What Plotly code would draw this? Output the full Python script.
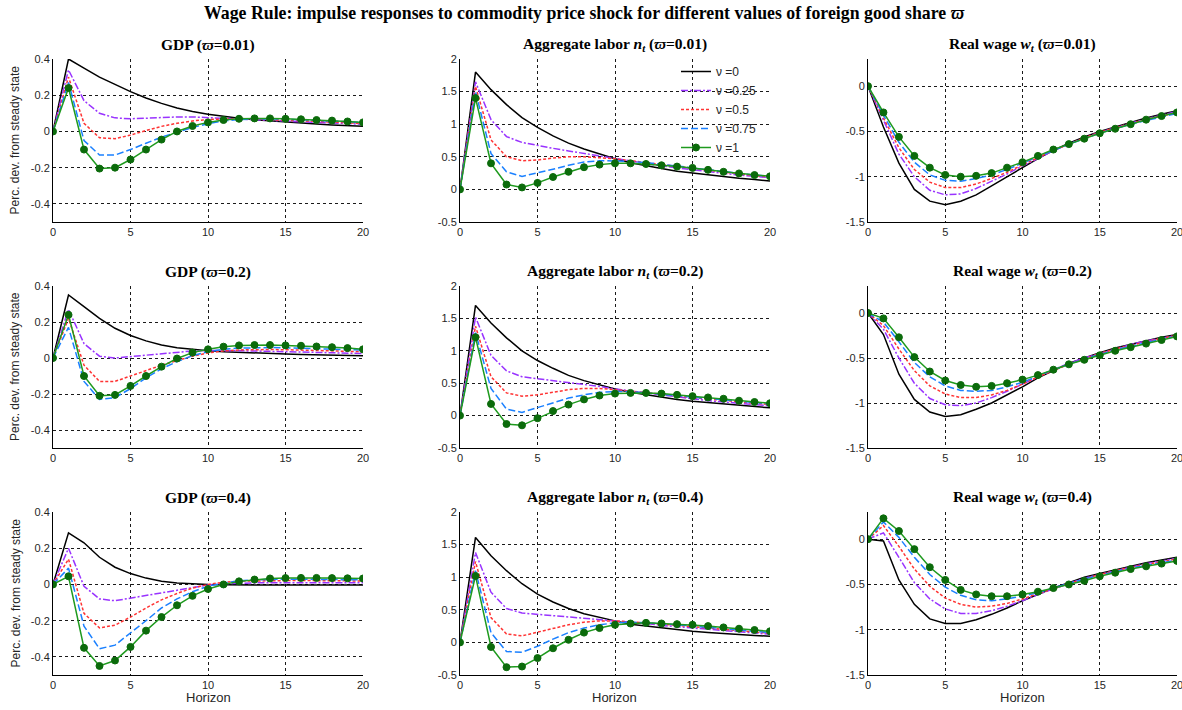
import plotly.graph_objects as go

horizon = list(range(21))
nu_labels = ["\u03bd =0", "\u03bd =0.25", "\u03bd =0.5", "\u03bd =0.75", "\u03bd =1"]
varpi_labels = ["0.01", "0.2", "0.4"]

x_ticks = [0, 5, 10, 15, 20]
gdp_ticks = [-0.4, -0.2, 0, 0.2, 0.4]
gdp_ticktext = ["-0.4", "-0.2", "0", "0.2", "0.4"]
lab_ticks = [-0.5, 0, 0.5, 1, 1.5, 2]
lab_ticktext = ["-0.5", "0", "0.5", "1", "1.5", "2"]
wage_ticks = [-1.5, -1, -0.5, 0]
wage_ticktext = ["-1.5", "-1", "-0.5", "0"]

# GDP, varpi = 0.01
g1_n0 = [0, 0.40, 0.35, 0.30, 0.26, 0.22, 0.185, 0.155, 0.13, 0.11, 0.095, 0.083, 0.073, 0.065, 0.058, 0.052, 0.046, 0.041, 0.036, 0.032, 0.028]
g1_n25 = [0, 0.34, 0.17, 0.10, 0.075, 0.07, 0.073, 0.078, 0.08, 0.08, 0.077, 0.073, 0.069, 0.065, 0.061, 0.057, 0.053, 0.05, 0.046, 0.043, 0.04]
g1_n50 = [0, 0.30, 0.045, -0.035, -0.04, -0.02, 0.005, 0.028, 0.045, 0.058, 0.066, 0.07, 0.07, 0.068, 0.066, 0.063, 0.06, 0.056, 0.052, 0.048, 0.044]
g1_n75 = [0, 0.27, -0.05, -0.13, -0.13, -0.10, -0.065, -0.032, -0.005, 0.022, 0.043, 0.058, 0.066, 0.069, 0.069, 0.068, 0.065, 0.062, 0.058, 0.054, 0.05]
g1_n100 = [0, 0.24, -0.10, -0.205, -0.20, -0.155, -0.10, -0.045, 0.0, 0.03, 0.05, 0.063, 0.07, 0.072, 0.072, 0.07, 0.067, 0.063, 0.06, 0.055, 0.05]

# Aggregate labor, varpi = 0.01
l1_n0 = [0, 1.80, 1.53, 1.30, 1.10, 0.95, 0.82, 0.71, 0.62, 0.54, 0.47, 0.41, 0.36, 0.32, 0.28, 0.25, 0.22, 0.195, 0.17, 0.15, 0.13]
l1_n25 = [0, 1.65, 1.07, 0.81, 0.72, 0.67, 0.63, 0.59, 0.55, 0.51, 0.47, 0.43, 0.39, 0.36, 0.33, 0.30, 0.27, 0.25, 0.22, 0.20, 0.18]
l1_n50 = [0, 1.58, 0.76, 0.50, 0.44, 0.45, 0.48, 0.50, 0.50, 0.49, 0.47, 0.44, 0.41, 0.38, 0.35, 0.32, 0.29, 0.26, 0.24, 0.21, 0.19]
l1_n75 = [0, 1.50, 0.55, 0.27, 0.20, 0.25, 0.31, 0.37, 0.42, 0.44, 0.44, 0.43, 0.41, 0.39, 0.36, 0.33, 0.30, 0.27, 0.25, 0.22, 0.20]
l1_n100 = [0, 1.40, 0.40, 0.075, 0.03, 0.10, 0.19, 0.27, 0.34, 0.38, 0.40, 0.40, 0.39, 0.37, 0.35, 0.33, 0.30, 0.27, 0.245, 0.22, 0.20]

# Real wage, varpi = 0.01
w1_n0 = [0, -0.45, -0.85, -1.14, -1.27, -1.31, -1.27, -1.20, -1.10, -1.00, -0.90, -0.80, -0.71, -0.63, -0.56, -0.50, -0.45, -0.40, -0.35, -0.31, -0.27]
w1_n25 = [0, -0.38, -0.75, -1.00, -1.15, -1.20, -1.19, -1.13, -1.05, -0.97, -0.88, -0.80, -0.71, -0.64, -0.57, -0.51, -0.46, -0.41, -0.36, -0.32, -0.28]
w1_n50 = [0, -0.35, -0.68, -0.92, -1.06, -1.12, -1.12, -1.08, -1.02, -0.95, -0.87, -0.79, -0.71, -0.64, -0.57, -0.51, -0.46, -0.41, -0.37, -0.33, -0.29]
w1_n75 = [0, -0.32, -0.62, -0.84, -0.98, -1.04, -1.05, -1.02, -0.98, -0.92, -0.85, -0.78, -0.71, -0.64, -0.58, -0.52, -0.47, -0.42, -0.38, -0.34, -0.30]
w1_n100 = [0, -0.29, -0.56, -0.77, -0.90, -0.98, -1.00, -0.99, -0.96, -0.90, -0.84, -0.77, -0.70, -0.64, -0.58, -0.52, -0.47, -0.42, -0.37, -0.33, -0.29]

# GDP, varpi = 0.2
g2_n0 = [0, 0.35, 0.285, 0.22, 0.165, 0.125, 0.095, 0.072, 0.057, 0.047, 0.04, 0.035, 0.031, 0.028, 0.025, 0.022, 0.02, 0.018, 0.016, 0.014, 0.013]
g2_n25 = [0, 0.27, 0.08, 0.01, 0.0, 0.008, 0.018, 0.027, 0.034, 0.039, 0.042, 0.042, 0.041, 0.039, 0.037, 0.035, 0.033, 0.031, 0.029, 0.027, 0.025]
g2_n50 = [0, 0.22, -0.04, -0.13, -0.13, -0.10, -0.07, -0.04, -0.015, 0.01, 0.028, 0.039, 0.045, 0.047, 0.047, 0.046, 0.044, 0.042, 0.04, 0.037, 0.035]
g2_n75 = [0, 0.17, -0.13, -0.23, -0.22, -0.17, -0.11, -0.06, -0.02, 0.013, 0.035, 0.048, 0.055, 0.058, 0.058, 0.057, 0.055, 0.053, 0.05, 0.047, 0.044]
g2_n100 = [0, 0.24, -0.10, -0.21, -0.205, -0.155, -0.10, -0.048, -0.003, 0.03, 0.048, 0.063, 0.07, 0.072, 0.072, 0.07, 0.068, 0.064, 0.06, 0.055, 0.048]

# Aggregate labor, varpi = 0.2
l2_n0 = [0, 1.70, 1.43, 1.20, 1.00, 0.85, 0.73, 0.62, 0.54, 0.47, 0.41, 0.36, 0.32, 0.28, 0.25, 0.22, 0.20, 0.17, 0.15, 0.135, 0.12]
l2_n25 = [0, 1.52, 0.93, 0.69, 0.60, 0.57, 0.55, 0.52, 0.49, 0.45, 0.41, 0.38, 0.34, 0.31, 0.28, 0.25, 0.23, 0.21, 0.19, 0.17, 0.15]
l2_n50 = [0, 1.38, 0.60, 0.35, 0.30, 0.32, 0.36, 0.40, 0.42, 0.42, 0.40, 0.38, 0.35, 0.33, 0.30, 0.28, 0.26, 0.23, 0.21, 0.19, 0.17]
l2_n75 = [0, 1.28, 0.42, 0.10, 0.05, 0.12, 0.20, 0.27, 0.32, 0.36, 0.37, 0.37, 0.35, 0.33, 0.31, 0.29, 0.27, 0.25, 0.22, 0.20, 0.18]
l2_n100 = [0, 1.21, 0.18, -0.13, -0.15, -0.04, 0.07, 0.17, 0.25, 0.31, 0.34, 0.35, 0.35, 0.34, 0.32, 0.30, 0.28, 0.26, 0.23, 0.21, 0.19]

# Real wage, varpi = 0.2
w2_n0 = [0, -0.24, -0.68, -0.96, -1.10, -1.15, -1.13, -1.07, -1.00, -0.91, -0.82, -0.72, -0.64, -0.56, -0.50, -0.44, -0.39, -0.35, -0.31, -0.27, -0.24]
w2_n25 = [0, -0.18, -0.50, -0.78, -0.95, -1.02, -1.03, -1.00, -0.94, -0.87, -0.79, -0.71, -0.63, -0.56, -0.50, -0.45, -0.40, -0.35, -0.31, -0.28, -0.25]
w2_n50 = [0, -0.14, -0.40, -0.64, -0.81, -0.90, -0.94, -0.94, -0.91, -0.86, -0.79, -0.71, -0.64, -0.57, -0.51, -0.45, -0.40, -0.36, -0.32, -0.28, -0.25]
w2_n75 = [0, -0.10, -0.32, -0.55, -0.71, -0.81, -0.86, -0.87, -0.86, -0.82, -0.77, -0.70, -0.63, -0.57, -0.51, -0.46, -0.41, -0.37, -0.33, -0.29, -0.26]
w2_n100 = [0, -0.06, -0.27, -0.49, -0.65, -0.75, -0.80, -0.82, -0.81, -0.78, -0.74, -0.69, -0.63, -0.57, -0.52, -0.47, -0.42, -0.38, -0.34, -0.30, -0.26]

# GDP, varpi = 0.4
g3_n0 = [0, 0.285, 0.23, 0.15, 0.095, 0.06, 0.035, 0.018, 0.008, 0.003, 0.0, -0.002, -0.003, -0.003, -0.003, -0.003, -0.003, -0.003, -0.003, -0.003, -0.003]
g3_n25 = [0, 0.20, -0.01, -0.08, -0.09, -0.075, -0.06, -0.045, -0.03, -0.015, -0.003, 0.005, 0.008, 0.01, 0.01, 0.01, 0.01, 0.01, 0.01, 0.009, 0.009]
g3_n50 = [0, 0.14, -0.16, -0.24, -0.225, -0.18, -0.13, -0.085, -0.05, -0.02, 0.0, 0.012, 0.018, 0.02, 0.022, 0.022, 0.022, 0.021, 0.02, 0.02, 0.019]
g3_n75 = [0, 0.09, -0.23, -0.355, -0.335, -0.27, -0.20, -0.13, -0.08, -0.04, -0.01, 0.008, 0.02, 0.025, 0.028, 0.029, 0.029, 0.028, 0.027, 0.026, 0.025]
g3_n100 = [0, 0.045, -0.35, -0.45, -0.42, -0.345, -0.255, -0.18, -0.115, -0.063, -0.025, 0.0, 0.017, 0.027, 0.033, 0.035, 0.036, 0.036, 0.035, 0.034, 0.033]

# Aggregate labor, varpi = 0.4
l3_n0 = [0, 1.61, 1.33, 1.10, 0.90, 0.74, 0.62, 0.52, 0.44, 0.38, 0.33, 0.28, 0.25, 0.22, 0.19, 0.17, 0.15, 0.13, 0.12, 0.105, 0.095]
l3_n25 = [0, 1.38, 0.77, 0.52, 0.45, 0.43, 0.42, 0.40, 0.38, 0.35, 0.33, 0.31, 0.29, 0.26, 0.24, 0.22, 0.20, 0.18, 0.16, 0.14, 0.125]
l3_n50 = [0, 1.24, 0.38, 0.13, 0.10, 0.16, 0.22, 0.27, 0.31, 0.33, 0.33, 0.32, 0.30, 0.28, 0.26, 0.24, 0.22, 0.20, 0.18, 0.16, 0.14]
l3_n75 = [0, 1.10, 0.15, -0.14, -0.15, -0.06, 0.05, 0.15, 0.22, 0.27, 0.30, 0.31, 0.30, 0.29, 0.27, 0.25, 0.23, 0.21, 0.19, 0.17, 0.15]
l3_n100 = [0, 1.02, -0.07, -0.38, -0.37, -0.24, -0.09, 0.04, 0.15, 0.22, 0.27, 0.29, 0.30, 0.29, 0.28, 0.27, 0.25, 0.23, 0.21, 0.19, 0.17]

# Real wage, varpi = 0.4
w3_n0 = [0, -0.02, -0.45, -0.72, -0.88, -0.93, -0.93, -0.89, -0.83, -0.76, -0.68, -0.61, -0.54, -0.48, -0.42, -0.38, -0.34, -0.30, -0.26, -0.23, -0.20]
w3_n25 = [0, 0.07, -0.20, -0.48, -0.66, -0.77, -0.82, -0.82, -0.79, -0.74, -0.68, -0.61, -0.55, -0.49, -0.43, -0.39, -0.35, -0.31, -0.27, -0.24, -0.21]
w3_n50 = [0, 0.15, -0.08, -0.33, -0.52, -0.65, -0.72, -0.75, -0.74, -0.71, -0.66, -0.60, -0.55, -0.49, -0.44, -0.39, -0.35, -0.31, -0.28, -0.25, -0.22]
w3_n75 = [0, 0.19, 0.02, -0.20, -0.39, -0.53, -0.62, -0.67, -0.68, -0.66, -0.63, -0.59, -0.54, -0.49, -0.44, -0.40, -0.36, -0.32, -0.29, -0.26, -0.23]
w3_n100 = [0, 0.23, 0.09, -0.11, -0.31, -0.45, -0.56, -0.61, -0.63, -0.63, -0.61, -0.58, -0.54, -0.50, -0.46, -0.41, -0.37, -0.33, -0.30, -0.27, -0.24]

panels = [
    [[g1_n0, g1_n25, g1_n50, g1_n75, g1_n100],
     [l1_n0, l1_n25, l1_n50, l1_n75, l1_n100],
     [w1_n0, w1_n25, w1_n50, w1_n75, w1_n100]],
    [[g2_n0, g2_n25, g2_n50, g2_n75, g2_n100],
     [l2_n0, l2_n25, l2_n50, l2_n75, l2_n100],
     [w2_n0, w2_n25, w2_n50, w2_n75, w2_n100]],
    [[g3_n0, g3_n25, g3_n50, g3_n75, g3_n100],
     [l3_n0, l3_n25, l3_n50, l3_n75, l3_n100],
     [w3_n0, w3_n25, w3_n50, w3_n75, w3_n100]],
]

W, H = 1182, 710
col_px = [(53, 363), (460, 770), (868, 1177)]
row_px = [(59, 222), (286, 448), (512, 675)]

styles = [
    dict(color="#000000", dash="solid"),
    dict(color="#9933ff", dash="7px,2px,2px,2px"),
    dict(color="#ff3333", dash="3px,2px"),
    dict(color="#1a80ff", dash="7px,3px"),
    dict(color="#1e9a1e", dash="solid"),
]

y_specs = [
    dict(range=[-0.5, 0.4], tickvals=gdp_ticks, ticktext=gdp_ticktext),
    dict(range=[-0.5, 2.0], tickvals=lab_ticks, ticktext=lab_ticktext),
    dict(range=[-1.5, 0.3], tickvals=wage_ticks, ticktext=wage_ticktext),
]

title_fmt = [
    "GDP (<i>\u03d6</i>=%s)",
    "Aggregate labor <i>n<sub>t</sub></i> (<i>\u03d6</i>=%s)",
    "Real wage <i>w<sub>t</sub></i> (<i>\u03d6</i>=%s)",
]

serif = "Liberation Serif"
sans = "Liberation Sans"

fig = go.Figure()
layout = dict(
    width=W, height=H, margin=dict(l=0, r=0, t=0, b=0, autoexpand=False),
    paper_bgcolor="white", plot_bgcolor="white",
    font=dict(family=sans, size=11, color="#262626"),
    showlegend=True,
    legend=dict(x=676 / W, y=1 - 57 / H, xanchor="left", yanchor="top",
                bgcolor="rgba(0,0,0,0)", borderwidth=0,
                font=dict(family=sans, size=12, color="#262626"),
                tracegroupgap=0),
)
annotations = []

k = 0
for r in range(3):
    for c in range(3):
        k += 1
        xa = "x" if k == 1 else "x%d" % k
        ya = "y" if k == 1 else "y%d" % k
        xname = "xaxis" if k == 1 else "xaxis%d" % k
        yname = "yaxis" if k == 1 else "yaxis%d" % k
        x0, x1 = col_px[c]
        y0, y1 = row_px[r]
        grid = dict(showgrid=True, gridcolor="#1a1a1a", griddash="3px,3px", gridwidth=1,
                    zeroline=False, showline=True, linecolor="#000000", linewidth=1,
                    ticks="", automargin=False, ticklabeloverflow="allow",
                    tickfont=dict(family=sans, size=11, color="#262626"))
        layout[xname] = dict(domain=[x0 / W, x1 / W], anchor=ya, range=[0, 20],
                             tickvals=x_ticks, ticktext=[str(v) for v in x_ticks], **grid)
        layout[yname] = dict(domain=[1 - y1 / H, 1 - y0 / H], anchor=xa, **y_specs[c], **grid)
        if r == 2:
            annotations.append(dict(
                text="Horizon", x=(x0 + x1) / 2 / W, y=1 - 697 / H, xref="paper", yref="paper",
                xanchor="center", yanchor="middle", showarrow=False,
                font=dict(family=sans, size=13, color="#262626")))
        if c == 0:
            annotations.append(dict(
                text="Perc. dev. from steady state", x=15 / W, y=1 - (y0 + y1) / 2 / H,
                xref="paper", yref="paper", xanchor="center", yanchor="middle",
                textangle=-90, showarrow=False,
                font=dict(family=sans, size=12, color="#262626")))
        series = panels[r][c]
        for i, ys in enumerate(series):
            st = styles[i]
            tr = dict(x=horizon, y=ys, xaxis=xa, yaxis=ya, name=nu_labels[i],
                      line=dict(color=st["color"], dash=st["dash"], width=1.5),
                      showlegend=(k == 2), legendgroup=nu_labels[i], hoverinfo="skip")
            if i == 4:
                tr["mode"] = "lines+markers"
                tr["marker"] = dict(size=7, color="#0b6b0b", line=dict(color="#0b6b0b", width=1))
            else:
                tr["mode"] = "lines"
            fig.add_trace(go.Scatter(**tr))
        annotations.append(dict(
            text="<b>" + (title_fmt[c] % varpi_labels[r]) + "</b>",
            x=(x0 + x1) / 2 / W, y=1 - y0 / H, xref="paper", yref="paper",
            xanchor="center", yanchor="bottom", yshift=3, showarrow=False,
            font=dict(family=serif, size=15.5, color="#000000")))

annotations.append(dict(
    text="<b>Wage Rule: impulse responses to commodity price shock for different values of foreign good share <i>\u03d6</i></b>",
    x=584 / W, y=1 - 13 / H, xref="paper", yref="paper", xanchor="center", yanchor="middle",
    showarrow=False, font=dict(family=serif, size=17.8, color="#000000")))

layout["annotations"] = annotations
fig.update_layout(**layout)
fig.write_html("out.html", config={"displayModeBar": False},
               post_script="document.body.style.margin='0';document.body.style.overflow='hidden';")
